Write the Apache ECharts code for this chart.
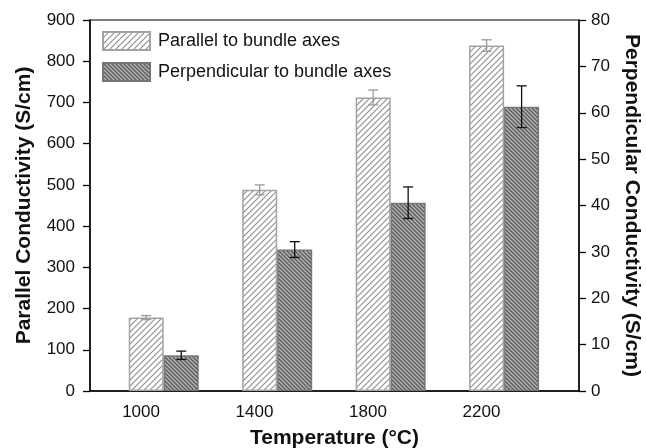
<!DOCTYPE html>
<html>
<head>
<meta charset="utf-8">
<script src="https://cdn.jsdelivr.net/npm/echarts@6/dist/echarts.min.js"></script>
<style>
html, body { margin: 0; padding: 0; background: #fff; }
#main { width: 646px; height: 448px; }
</style>
</head>
<body>
<div id="main"></div>
<script>
var temps = ['1000', '1400', '1800', '2200'];
var parallelVals = [178, 488, 712, 838];
var parallelErr = [5, 12, 18, 14];
var perpVals = [7.7, 30.5, 40.6, 61.3];
var perpErr = [0.9, 1.7, 3.4, 4.5];
var seriesNames = ['Parallel to bundle axes', 'Perpendicular to bundle axes'];

var FONT = 'Liberation Sans, Arial, sans-serif';
var BAR_W = 35;

// hatch pattern tiles
function hatch(size, bg, fg, lw, dir) {
	var c = document.createElement('canvas');
	c.width = size; c.height = size;
	var ctx = c.getContext('2d');
	ctx.fillStyle = bg;
	ctx.fillRect(0, 0, size, size);
	ctx.strokeStyle = fg;
	ctx.lineWidth = lw;
	ctx.beginPath();
	if (dir === '/') {
		ctx.moveTo(-size, size * 2); ctx.lineTo(size * 2, -size);
		ctx.moveTo(-size, size); ctx.lineTo(size, -size);
		ctx.moveTo(0, size * 2); ctx.lineTo(size * 2, 0);
	} else {
		ctx.moveTo(-size, -size); ctx.lineTo(size * 2, size * 2);
		ctx.moveTo(-size, 0); ctx.lineTo(size, size * 2);
		ctx.moveTo(0, -size); ctx.lineTo(size * 2, size);
	}
	ctx.stroke();
	return c;
}

var parPattern = { image: hatch(6, '#ffffff', '#8e8e8e', 1.1, '/'), repeat: 'repeat' };
var perpPattern = { image: hatch(4, '#b4b4b4', '#5c5c5c', 1.4, '\\'), repeat: 'repeat' };

function errorSeries(vals, errs, yIdx, shift, color) {
	return {
		type: 'custom',
		xAxisIndex: 0,
		yAxisIndex: yIdx,
		silent: true,
		z: 5,
		data: vals.map(function (v, i) { return [i, v - errs[i], v + errs[i]]; }),
		renderItem: function (params, api) {
			var lo = api.coord([api.value(0), api.value(1)]);
			var hi = api.coord([api.value(0), api.value(2)]);
			var x = lo[0] + shift;
			var hw = 5;
			var st = { stroke: color, lineWidth: 1.3 };
			return {
				type: 'group',
				children: [
					{ type: 'line', shape: { x1: x, y1: lo[1], x2: x, y2: hi[1] }, style: st },
					{ type: 'line', shape: { x1: x - hw, y1: lo[1], x2: x + hw, y2: lo[1] }, style: st },
					{ type: 'line', shape: { x1: x - hw, y1: hi[1], x2: x + hw, y2: hi[1] }, style: st }
				]
			};
		}
	};
}

var chart = echarts.init(document.getElementById('main'));
chart.setOption({
	animation: false,
	backgroundColor: '#fff',
	textStyle: { fontFamily: FONT },
	grid: {
		left: 90, right: 67, top: 20, bottom: 57,
		outerBoundsMode: 'none',
		show: true, borderColor: '#000', borderWidth: 1
	},
	legend: {
		orient: 'vertical',
		left: 97, top: 26,
		icon: 'rect',
		itemWidth: 47, itemHeight: 18, itemGap: 11,
		textStyle: { fontSize: 18, color: '#111', fontFamily: FONT, padding: [0, 0, 0, 3] },
		data: seriesNames
	},
	xAxis: {
		type: 'value',
		min: -0.65, max: 3.66,
		name: 'Temperature (\u00B0C)',
		nameLocation: 'middle',
		nameGap: 37,
		nameTextStyle: { fontSize: 21, fontWeight: 'bold', color: '#111', fontFamily: FONT },
		axisLine: { show: true, onZero: false, lineStyle: { color: '#000', width: 1.5 } },
		axisTick: { show: false },
		splitLine: { show: false },
		axisLabel: {
			customValues: temps.map(function (t, i) { return i - 0.2; }),
			formatter: function (v) { return temps[Math.round(v + 0.2)]; },
			fontSize: 17, color: '#111', margin: 13, fontFamily: FONT
		}
	},
	yAxis: [{
		type: 'value',
		min: 0, max: 900, interval: 100,
		name: 'Parallel Conductivity (S/cm)',
		nameLocation: 'middle',
		nameGap: 55,
		nameTextStyle: { fontSize: 21, fontWeight: 'bold', color: '#111', fontFamily: FONT },
		axisLine: { show: true, onZero: false, lineStyle: { color: '#000', width: 1.5 } },
		axisTick: { show: true, length: 7, inside: false, lineStyle: { color: '#000', width: 1.3 } },
		splitLine: { show: false },
		axisLabel: { fontSize: 17, color: '#111', margin: 15, fontFamily: FONT }
	}, {
		type: 'value',
		min: 0, max: 80, interval: 10,
		position: 'right',
		name: 'Perpendicular Conductivity (S/cm)',
		nameLocation: 'middle',
		nameGap: 41,
		nameRotate: -90,
		nameTextStyle: { fontSize: 21, fontWeight: 'bold', color: '#111', fontFamily: FONT },
		axisLine: { show: true, onZero: false, lineStyle: { color: '#000', width: 1.5 } },
		axisTick: { show: true, length: 7, inside: false, lineStyle: { color: '#000', width: 1.3 } },
		splitLine: { show: false },
		axisLabel: { fontSize: 17, color: '#111', margin: 12, fontFamily: FONT }
	}],
	series: [{
		name: seriesNames[0],
		type: 'bar',
		xAxisIndex: 0,
		yAxisIndex: 0,
		barWidth: BAR_W,
		barGap: '0%',
		itemStyle: { color: parPattern, borderColor: '#a3a3a3', borderWidth: 1.5 },
		data: parallelVals.map(function (v, i) { return [i, v]; })
	}, {
		name: seriesNames[1],
		type: 'bar',
		xAxisIndex: 0,
		yAxisIndex: 1,
		barWidth: BAR_W,
		barGap: '0%',
		itemStyle: { color: perpPattern, borderColor: '#777777', borderWidth: 1.5 },
		data: perpVals.map(function (v, i) { return [i, v]; })
	},
	errorSeries(parallelVals, parallelErr, 0, -BAR_W / 2, '#9a9a9a'),
	errorSeries(perpVals, perpErr, 1, BAR_W / 2, '#111')
	]
});
</script>
</body>
</html>
